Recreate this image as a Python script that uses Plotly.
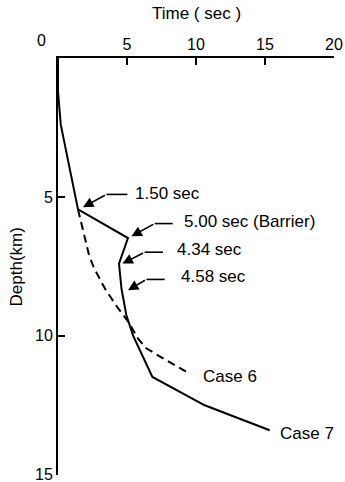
import plotly.graph_objects as go

# ---- data ----
case7_time = [0.0, 0.0, 0.2, 0.43, 1.45, 5.07, 4.42, 4.60, 4.95, 5.45, 6.0, 6.84, 10.63, 15.34]
case7_depth = [0.0, 1.2, 2.4, 2.97, 5.45, 6.48, 7.40, 8.30, 9.25, 10.0, 10.6, 11.48, 12.50, 13.40]

case6_time = [1.45, 2.25, 2.6, 3.4, 4.2, 5.1, 5.8, 6.4, 7.4, 9.54]
case6_depth = [5.45, 7.10, 7.55, 8.30, 8.90, 9.50, 10.10, 10.45, 10.75, 11.36]

x_ticks = [0, 5, 10, 15, 20]
y_ticks = [5, 10, 15]

# labels: text, text x, text y, arrow tip, bend, line end
labels = [
    ("1.50 sec", 5.41, 4.86, (1.81, 5.37), (3.51, 4.91), (5.03, 4.91)),
    ("5.00 sec (Barrier)", 9.01, 5.87, (5.32, 6.42), (7.01, 5.96), (8.31, 5.96)),
    ("4.34 sec", 8.46, 6.90, (4.67, 7.40), (6.28, 6.99), (7.61, 6.99)),
    ("4.58 sec", 8.75, 7.88, (5.07, 8.36), (6.41, 7.97), (7.73, 7.97)),
]
case_labels = [("Case 6", 10.39, 11.48), ("Case 7", 15.94, 13.52)]

FONT = "Liberation Sans"

fig = go.Figure()
fig.add_trace(go.Scatter(x=case7_time, y=case7_depth, mode="lines",
                         line=dict(color="black", width=2), showlegend=False))
fig.add_trace(go.Scatter(x=case6_time, y=case6_depth, mode="lines",
                         line=dict(color="black", width=2, dash="8px,5px"), showlegend=False))

annotations = []
shapes = []
for text, tx, ty, tip, bend, end in labels:
    annotations.append(dict(x=tx, y=ty, xref="x", yref="y", text=text, showarrow=False,
                            xanchor="left", yanchor="middle",
                            font=dict(family=FONT, size=17, color="black")))
    annotations.append(dict(x=tip[0], y=tip[1], xref="x", yref="y", ax=bend[0], ay=bend[1],
                            axref="x", ayref="y", text="", showarrow=True,
                            arrowhead=2, arrowsize=1.3, arrowwidth=1.6, arrowcolor="black",
                            standoff=0, startstandoff=0))
    shapes.append(dict(type="line", xref="x", yref="y", x0=bend[0], y0=bend[1],
                       x1=end[0], y1=end[1], line=dict(color="black", width=1.6)))

for text, tx, ty in case_labels:
    annotations.append(dict(x=tx, y=ty, xref="x", yref="y", text=text, showarrow=False,
                            xanchor="left", yanchor="middle",
                            font=dict(family=FONT, size=17, color="black")))

# "0" tick label (offset left in the original)
annotations.append(dict(x=-0.058, y=1.042, xref="paper", yref="paper", text="0", showarrow=False,
                        xanchor="center", yanchor="middle",
                        font=dict(family=FONT, size=16, color="black")))
# axis titles
annotations.append(dict(x=0.5, y=1.107, xref="paper", yref="paper", text="Time ( sec )",
                        showarrow=False, xanchor="center", yanchor="middle",
                        font=dict(family=FONT, size=17, color="black")))
annotations.append(dict(x=-0.1486, y=0.5, xref="paper", yref="paper", text="Depth(km)",
                        showarrow=False, xanchor="center", yanchor="middle", textangle=-90,
                        font=dict(family=FONT, size=17, color="black")))

fig.update_layout(
    width=345, height=482,
    margin=dict(l=58, r=11, t=58, b=7, autoexpand=False),
    paper_bgcolor="white", plot_bgcolor="white",
    showlegend=False,
    annotations=annotations,
    shapes=shapes,
    xaxis=dict(side="top", range=[0, 20], tickvals=x_ticks,
               ticktext=["" if v == 0 else str(v) for v in x_ticks],
               ticks="inside", ticklen=7, tickwidth=1.5, tickcolor="black",
               ticklabelstandoff=0, ticklabeloverflow="allow", automargin=False,
               showline=True, linecolor="black", linewidth=2, showgrid=False,
               zeroline=False, tickfont=dict(family=FONT, size=16, color="black")),
    yaxis=dict(range=[15.01, 0], tickvals=y_ticks, ticktext=[str(v) for v in y_ticks],
               ticks="inside", ticklen=7, tickwidth=1.5, tickcolor="black",
               ticklabeloverflow="allow", automargin=False,
               showline=True, linecolor="black", linewidth=2, showgrid=False,
               zeroline=False, tickfont=dict(family=FONT, size=16, color="black")),
)

fig.write_html("out.html")
